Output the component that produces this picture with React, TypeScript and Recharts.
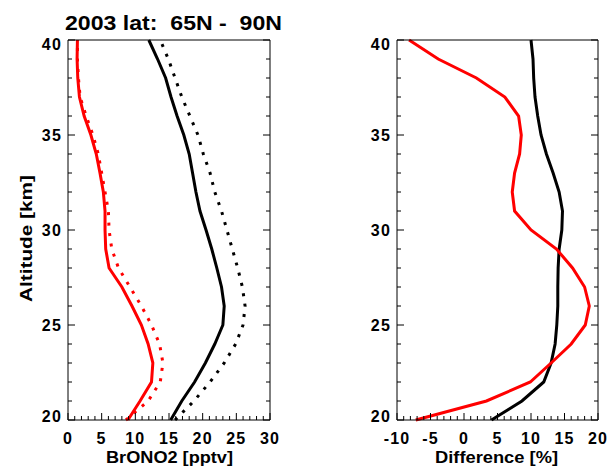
import React from "react";
import { LineChart, Line, XAxis, YAxis } from "recharts";

const altitudes = [20, 21, 22, 23, 24, 25, 26, 27, 28, 29, 30, 31, 32, 33, 34, 35, 36, 37, 38, 39, 40];
const redSolid = [8.9, 10.7, 12.4, 12.6, 11.9, 10.9, 9.5, 8.0, 6.1, 5.6, 5.5, 5.5, 5.25, 4.75, 4.2, 3.4, 2.4, 1.7, 1.45, 1.35, 1.4];
const redDotted = [8.6, 11.9, 13.7, 14.1, 13.6, 12.4, 10.9, 9.2, 7.5, 6.5, 6.1, 6.0, 5.5, 5.0, 4.5, 3.7, 2.7, 1.8, 1.55, 1.4, 1.4];
const blackSolid = [15.25, 16.9, 18.8, 20.4, 21.8, 23.0, 23.2, 22.8, 22.1, 21.35, 20.5, 19.6, 19.0, 18.5, 18.0, 17.2, 16.2, 15.3, 14.5, 13.3, 12.0];
const blackDotted = [15.9, 18.7, 21.1, 23.2, 24.9, 26.0, 26.3, 25.9, 25.2, 24.4, 23.6, 22.8, 21.8, 21.1, 20.1, 19.3, 18.1, 16.9, 15.9, 14.9, 13.7];
const diffRed = [-7.2, 3.35, 9.9, 13.0, 16.0, 18.1, 18.7, 18.0, 16.2, 13.8, 10.0, 7.55, 7.2, 7.55, 8.3, 8.55, 8.15, 6.1, 1.85, -3.85, -8.2];
const diffBlack = [4.1, 8.65, 11.9, 13.0, 13.6, 13.85, 14.0, 14.0, 14.05, 14.2, 14.6, 14.7, 14.2, 13.3, 12.3, 11.5, 11.0, 10.6, 10.4, 10.3, 10.0];

const leftXTicks = Array.from({ length: 31 }, (_, i) => i);
const rightXTicks = Array.from({ length: 31 }, (_, i) => i - 10);
const altTicks = altitudes;

const titleText = "2003 lat:  65N -  90N";
const leftXLabel = "BrONO2 [pptv]";
const rightXLabel = "Difference [%]";
const yLabel = "Altitude [km]";

const leftData = altitudes.map((a, i) => ({
  alt: a,
  redSolid: redSolid[i],
  redDotted: redDotted[i],
  blackSolid: blackSolid[i],
  blackDotted: blackDotted[i],
}));
const rightData = altitudes.map((a, i) => ({ alt: a, diffRed: diffRed[i], diffBlack: diffBlack[i] }));

const FONT = "'Liberation Sans', Arial, Helvetica, sans-serif";
const MAJ = 7;
const MIN = 4;
const PLOT_TOP = 40;
const PLOT_BOTTOM = 420;

const BottomTick = (props: any) => {
  const { x, y, payload } = props;
  const v = payload.value;
  const major = v % 5 === 0;
  return (
    <g>
      <line x1={x} y1={y} x2={x} y2={y - (major ? MAJ : MIN)} stroke="#000" strokeWidth={1} />
      {major && (
        <text x={x} y={y + 24} textAnchor="middle" fontSize={16} fontWeight="bold" fontFamily={FONT} letterSpacing={1.2} fill="#000">
          {String(v)}
        </text>
      )}
    </g>
  );
};
const TopTick = (props: any) => {
  const { x, y, payload } = props;
  const major = payload.value % 5 === 0;
  return <line x1={x} y1={y} x2={x} y2={y + (major ? MAJ : MIN)} stroke="#000" strokeWidth={1} />;
};
const LeftTick = (props: any) => {
  const { x, y, payload } = props;
  const v = payload.value;
  const major = v % 5 === 0;
  const cy = Math.min(Math.max(y, PLOT_TOP + 4), PLOT_BOTTOM - 4);
  return (
    <g>
      <line x1={x} y1={y} x2={x + (major ? MAJ : MIN)} y2={y} stroke="#000" strokeWidth={1} />
      {major && (
        <text x={x - 6} y={cy + 6} textAnchor="end" fontSize={16} fontWeight="bold" fontFamily={FONT} letterSpacing={1.2} fill="#000">
          {String(v)}
        </text>
      )}
    </g>
  );
};
const RightTick = (props: any) => {
  const { x, y, payload } = props;
  const major = payload.value % 5 === 0;
  return <line x1={x} y1={y} x2={x - (major ? MAJ : MIN)} y2={y} stroke="#000" strokeWidth={1} />;
};

const axisCommon = { tickLine: false, tickSize: 0, tickMargin: 0, interval: 0 as const, axisLine: { stroke: "#000", strokeWidth: 1 } };

function Panel(props: { data: any[]; xTicks: number[]; xDomain: [number, number]; children: React.ReactNode; width: number; margin: any; left: number }) {
  return (
    <div style={{ position: "absolute", left: props.left, top: 0 }}>
      <LineChart width={props.width} height={468} data={props.data} layout="vertical" margin={props.margin}>
        <XAxis xAxisId="b" type="number" orientation="bottom" domain={props.xDomain} ticks={props.xTicks} height={1} tick={<BottomTick />} {...axisCommon} />
        <XAxis xAxisId="t" type="number" orientation="top" domain={props.xDomain} ticks={props.xTicks} height={1} tick={<TopTick />} {...axisCommon} />
        <YAxis yAxisId="l" type="number" dataKey="alt" orientation="left" reversed domain={[20, 40]} ticks={altTicks} width={1} tick={<LeftTick />} {...axisCommon} />
        <YAxis yAxisId="r" type="number" dataKey="alt" orientation="right" reversed domain={[20, 40]} ticks={altTicks} width={1} tick={<RightTick />} {...axisCommon} />
        {props.children}
      </LineChart>
    </div>
  );
}

export default function App() {
  const lineCommon = { xAxisId: "b", yAxisId: "l", dot: false, activeDot: false, isAnimationActive: false, type: "linear" as const, strokeWidth: 3 };
  return (
    <div style={{ position: "absolute", left: 0, top: 0, width: 609, height: 468, background: "#fff" }}>
      <Panel data={leftData} xTicks={leftXTicks} xDomain={[0, 30]} width={300} left={0} margin={{ top: 39, right: 29, bottom: 47, left: 67 }}>
        <Line {...lineCommon} dataKey="redDotted" stroke="#ff0000" strokeDasharray="3 7.5" />
        <Line {...lineCommon} dataKey="blackDotted" stroke="#000000" strokeDasharray="3 7.5" />
        <Line {...lineCommon} dataKey="redSolid" stroke="#ff0000" />
        <Line {...lineCommon} dataKey="blackSolid" stroke="#000000" />
      </Panel>
      <Panel data={rightData} xTicks={rightXTicks} xDomain={[-10, 20]} width={309} left={300} margin={{ top: 39, right: 10, bottom: 47, left: 96 }}>
        <Line {...lineCommon} dataKey="diffBlack" stroke="#000000" />
        <Line {...lineCommon} dataKey="diffRed" stroke="#ff0000" />
      </Panel>
      <svg width={609} height={468} style={{ position: "absolute", left: 0, top: 0, pointerEvents: "none" }}>
        <text x={173.5} y={30} textAnchor="middle" fontSize={20} fontWeight="bold" fontFamily={FONT} textLength={217} lengthAdjust="spacingAndGlyphs" style={{ whiteSpace: "pre" }} fill="#000">
          {titleText}
        </text>
        <text x={169.5} y={463} textAnchor="middle" fontSize={16} fontWeight="bold" fontFamily={FONT} textLength={127} lengthAdjust="spacingAndGlyphs" fill="#000">
          {leftXLabel}
        </text>
        <text x={496.5} y={463} textAnchor="middle" fontSize={16} fontWeight="bold" fontFamily={FONT} textLength={123} lengthAdjust="spacingAndGlyphs" fill="#000">
          {rightXLabel}
        </text>
        <text x={0} y={0} transform="translate(31.5,238.5) rotate(-90)" textAnchor="middle" fontSize={16} fontWeight="bold" fontFamily={FONT} textLength={127} lengthAdjust="spacingAndGlyphs" fill="#000">
          {yLabel}
        </text>
      </svg>
    </div>
  );
}
